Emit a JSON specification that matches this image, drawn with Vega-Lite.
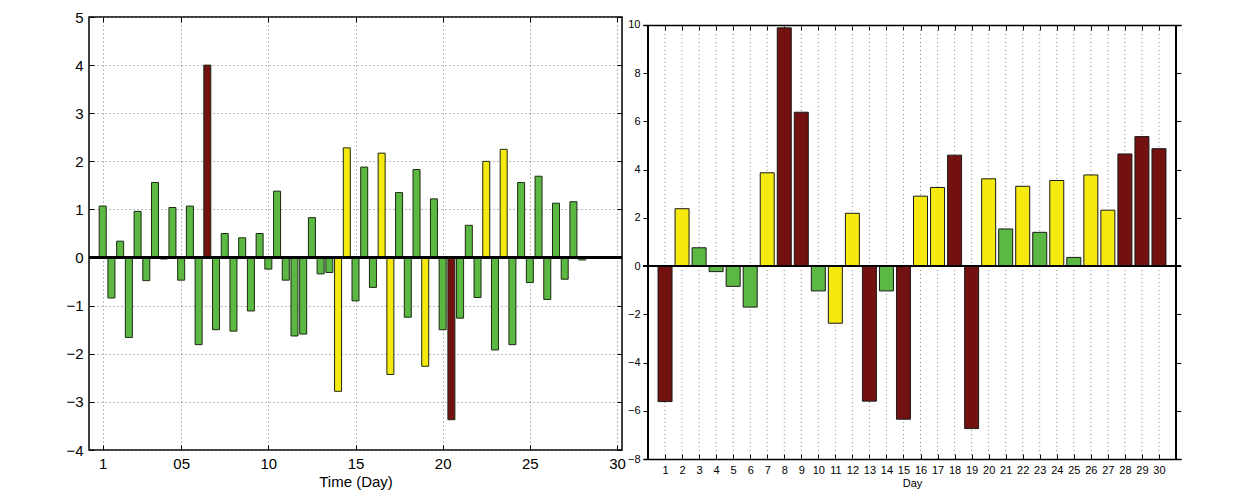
{
  "$schema": "https://vega.github.io/schema/vega-lite/v6.json",
  "background": "white",
  "padding": {"left": 65, "top": 9, "right": 5, "bottom": 5},
  "spacing": 0,
  "config": {
    "view": {"stroke": "black", "strokeWidth": 1.5},
    "axis": {
      "domain": false,
      "tickColor": "black",
      "tickSize": -5,
      "tickWidth": 1,
      "gridColor": "#777",
      "gridDash": [1, 3],
      "gridWidth": 1,
      "labelColor": "black",
      "titleColor": "black",
      "titleFontWeight": "normal",
      "labelFont": "Liberation Sans",
      "titleFont": "Liberation Sans"
    }
  },
  "datasets": {
    "left": [
      {"d": 0.5, "v": 1.07, "c": "g"}, {"d": 1.0, "v": -0.84, "c": "g"}, {"d": 1.5, "v": 0.34, "c": "g"}, {"d": 2.0, "v": -1.66, "c": "g"},
      {"d": 2.5, "v": 0.96, "c": "g"}, {"d": 3.0, "v": -0.48, "c": "g"}, {"d": 3.5, "v": 1.56, "c": "g"}, {"d": 4.0, "v": -0.03, "c": "g"},
      {"d": 4.5, "v": 1.04, "c": "g"}, {"d": 5.0, "v": -0.47, "c": "g"}, {"d": 5.5, "v": 1.07, "c": "g"}, {"d": 6.0, "v": -1.81, "c": "g"},
      {"d": 6.5, "v": 4.0, "c": "r"}, {"d": 7.0, "v": -1.5, "c": "g"}, {"d": 7.5, "v": 0.5, "c": "g"}, {"d": 8.0, "v": -1.53, "c": "g"},
      {"d": 8.5, "v": 0.41, "c": "g"}, {"d": 9.0, "v": -1.11, "c": "g"}, {"d": 9.5, "v": 0.5, "c": "g"}, {"d": 10.0, "v": -0.24, "c": "g"},
      {"d": 10.5, "v": 1.38, "c": "g"}, {"d": 11.0, "v": -0.47, "c": "g"}, {"d": 11.5, "v": -1.63, "c": "g"}, {"d": 12.0, "v": -1.59, "c": "g"},
      {"d": 12.5, "v": 0.83, "c": "g"}, {"d": 13.0, "v": -0.34, "c": "g"}, {"d": 13.5, "v": -0.31, "c": "g"}, {"d": 14.0, "v": -2.78, "c": "y"},
      {"d": 14.5, "v": 2.28, "c": "y"}, {"d": 15.0, "v": -0.9, "c": "g"}, {"d": 15.5, "v": 1.88, "c": "g"}, {"d": 16.0, "v": -0.62, "c": "g"},
      {"d": 16.5, "v": 2.17, "c": "y"}, {"d": 17.0, "v": -2.43, "c": "y"}, {"d": 17.5, "v": 1.35, "c": "g"}, {"d": 18.0, "v": -1.24, "c": "g"},
      {"d": 18.5, "v": 1.83, "c": "g"}, {"d": 19.0, "v": -2.26, "c": "y"}, {"d": 19.5, "v": 1.22, "c": "g"}, {"d": 20.0, "v": -1.5, "c": "g"},
      {"d": 20.5, "v": -3.37, "c": "r"}, {"d": 21.0, "v": -1.26, "c": "g"}, {"d": 21.5, "v": 0.67, "c": "g"}, {"d": 22.0, "v": -0.83, "c": "g"},
      {"d": 22.5, "v": 2.0, "c": "y"}, {"d": 23.0, "v": -1.92, "c": "g"}, {"d": 23.5, "v": 2.25, "c": "y"}, {"d": 24.0, "v": -1.81, "c": "g"},
      {"d": 24.5, "v": 1.56, "c": "g"}, {"d": 25.0, "v": -0.52, "c": "g"}, {"d": 25.5, "v": 1.69, "c": "g"}, {"d": 26.0, "v": -0.87, "c": "g"},
      {"d": 26.5, "v": 1.13, "c": "g"}, {"d": 27.0, "v": -0.45, "c": "g"}, {"d": 27.5, "v": 1.16, "c": "g"}, {"d": 28.0, "v": -0.05, "c": "g"}
    ],
    "right": [
      {"day": 1, "v": -5.62, "c": "r"}, {"day": 2, "v": 2.38, "c": "y"}, {"day": 3, "v": 0.76, "c": "g"}, {"day": 4, "v": -0.23, "c": "g"},
      {"day": 5, "v": -0.84, "c": "g"}, {"day": 6, "v": -1.7, "c": "g"}, {"day": 7, "v": 3.87, "c": "y"}, {"day": 8, "v": 9.88, "c": "r"},
      {"day": 9, "v": 6.38, "c": "r"}, {"day": 10, "v": -1.03, "c": "g"}, {"day": 11, "v": -2.37, "c": "y"}, {"day": 12, "v": 2.19, "c": "y"},
      {"day": 13, "v": -5.6, "c": "r"}, {"day": 14, "v": -1.03, "c": "g"}, {"day": 15, "v": -6.35, "c": "r"}, {"day": 16, "v": 2.9, "c": "y"},
      {"day": 17, "v": 3.26, "c": "y"}, {"day": 18, "v": 4.6, "c": "r"}, {"day": 19, "v": -6.74, "c": "r"}, {"day": 20, "v": 3.62, "c": "y"},
      {"day": 21, "v": 1.54, "c": "g"}, {"day": 22, "v": 3.31, "c": "y"}, {"day": 23, "v": 1.4, "c": "g"}, {"day": 24, "v": 3.55, "c": "y"},
      {"day": 25, "v": 0.36, "c": "g"}, {"day": 26, "v": 3.78, "c": "y"}, {"day": 27, "v": 2.32, "c": "y"}, {"day": 28, "v": 4.65, "c": "r"},
      {"day": 29, "v": 5.37, "c": "r"}, {"day": 30, "v": 4.87, "c": "r"}
    ]
  },
  "hconcat": [
    {
      "width": 533,
      "height": 433,
      "data": {"name": "left"},
      "resolve": {"axis": {"x": "independent", "y": "independent"}},
      "layer": [
        {
          "mark": {"type": "bar", "size": 7, "stroke": "#1b2a10", "strokeWidth": 1},
          "encoding": {
            "x": {
              "field": "d", "type": "quantitative",
              "scale": {"domain": [0, 30], "nice": false, "zero": false},
              "axis": {
                "values": [0.5, 5, 10, 15, 20, 25, 30],
                "labelExpr": "datum.value == 0.5 ? '1' : datum.value == 5 ? '05' : datum.label",
                "title": "Time (Day)",
                "labelFontSize": 15, "labelPadding": 11,
                "titleFontSize": 15, "titlePadding": 3
              }
            },
            "y": {
              "field": "v", "type": "quantitative",
              "scale": {"domain": [-4, 5], "nice": false},
              "axis": {
                "values": [-4, -3, -2, -1, 0, 1, 2, 3, 4, 5],
                "title": null,
                "labelFontSize": 15, "labelPadding": 11
              }
            },
            "color": {
              "field": "c", "type": "nominal", "legend": null,
              "scale": {"domain": ["g", "y", "r"], "range": ["#5bb943", "#f5e90f", "#731010"]}
            }
          }
        },
        {
          "mark": {"type": "bar", "size": 7, "opacity": 0},
          "encoding": {
            "x": {
              "field": "d", "type": "quantitative",
              "axis": {"orient": "top", "values": [0.5, 5, 10, 15, 20, 25, 30], "labels": false, "grid": false, "title": null}
            },
            "y": {
              "field": "v", "type": "quantitative",
              "axis": {"orient": "right", "values": [-4, -3, -2, -1, 0, 1, 2, 3, 4, 5], "labels": false, "grid": false, "title": null}
            }
          }
        },
        {
          "mark": {"type": "rule", "color": "black", "strokeWidth": 1.5},
          "encoding": {"y": {"datum": 0, "type": "quantitative", "axis": null}}
        }
      ]
    },
    {
      "width": 538,
      "height": 442,
      "view": {"stroke": null},
      "data": {"name": "right"},
      "resolve": {"axis": {"x": "independent", "y": "independent"}},
      "layer": [
        {
          "mark": {"type": "rule", "color": "#888", "strokeDash": [1, 3], "strokeWidth": 1},
          "encoding": {
            "x": {"field": "day", "type": "quantitative", "axis": null},
            "y": {"datum": -8, "type": "quantitative", "axis": null},
            "y2": {"datum": 10}
          }
        },
        {
          "mark": {"type": "bar", "size": 14, "stroke": "#1a1a1a", "strokeWidth": 1},
          "encoding": {
            "x": {
              "field": "day", "type": "quantitative",
              "scale": {"domain": [0, 31], "nice": false, "zero": false},
              "axis": {
                "values": [1, 2, 3, 4, 5, 6, 7, 8, 9, 10, 11, 12, 13, 14, 15, 16, 17, 18, 19, 20, 21, 22, 23, 24, 25, 26, 27, 28, 29, 30],
                "title": "Day",
                "grid": false,
                "domain": true, "domainColor": "black", "domainWidth": 1.5,
                "labelFontSize": 11, "labelPadding": 10,
                "titleFontSize": 11, "titlePadding": 2
              }
            },
            "y": {
              "field": "v", "type": "quantitative",
              "scale": {"domain": [-8, 10.33], "nice": false, "zero": false},
              "axis": {
                "values": [-8, -6, -4, -2, 0, 2, 4, 6, 8, 10],
                "title": null,
                "labelFontSize": 11, "labelPadding": 8
              }
            },
            "color": {
              "field": "c", "type": "nominal", "legend": null,
              "scale": {"domain": ["g", "y", "r"], "range": ["#6abf45", "#f6ea12", "#8a1a1a"]}
            }
          }
        },
        {
          "mark": {"type": "bar", "size": 14, "opacity": 0},
          "encoding": {
            "x": {
              "field": "day", "type": "quantitative",
              "axis": {"orient": "top", "offset": -8, "domain": true, "domainColor": "black", "domainWidth": 1.5, "values": [1, 2, 3, 4, 5, 6, 7, 8, 9, 10, 11, 12, 13, 14, 15, 16, 17, 18, 19, 20, 21, 22, 23, 24, 25, 26, 27, 28, 29, 30], "labels": false, "grid": false, "title": null}
            },
            "y": {
              "field": "v", "type": "quantitative",
              "axis": {"orient": "right", "values": [-8, -6, -4, -2, 0, 2, 4, 6, 8, 10], "labels": false, "grid": false, "title": null}
            }
          }
        },
        {
          "mark": {"type": "rule", "color": "black", "strokeWidth": 1.5},
          "encoding": {
            "x": {"datum": 0, "type": "quantitative", "axis": null},
            "y": {"datum": -8, "type": "quantitative", "axis": null},
            "y2": {"datum": 10}
          }
        },
        {
          "mark": {"type": "rule", "color": "black", "strokeWidth": 1.5},
          "encoding": {
            "x": {"datum": 31, "type": "quantitative", "axis": null},
            "y": {"datum": -8, "type": "quantitative", "axis": null},
            "y2": {"datum": 10}
          }
        },
        {
          "mark": {"type": "rule", "color": "black", "strokeWidth": 1.2},
          "encoding": {"y": {"datum": 0, "type": "quantitative", "axis": null}}
        }
      ]
    }
  ]
}
